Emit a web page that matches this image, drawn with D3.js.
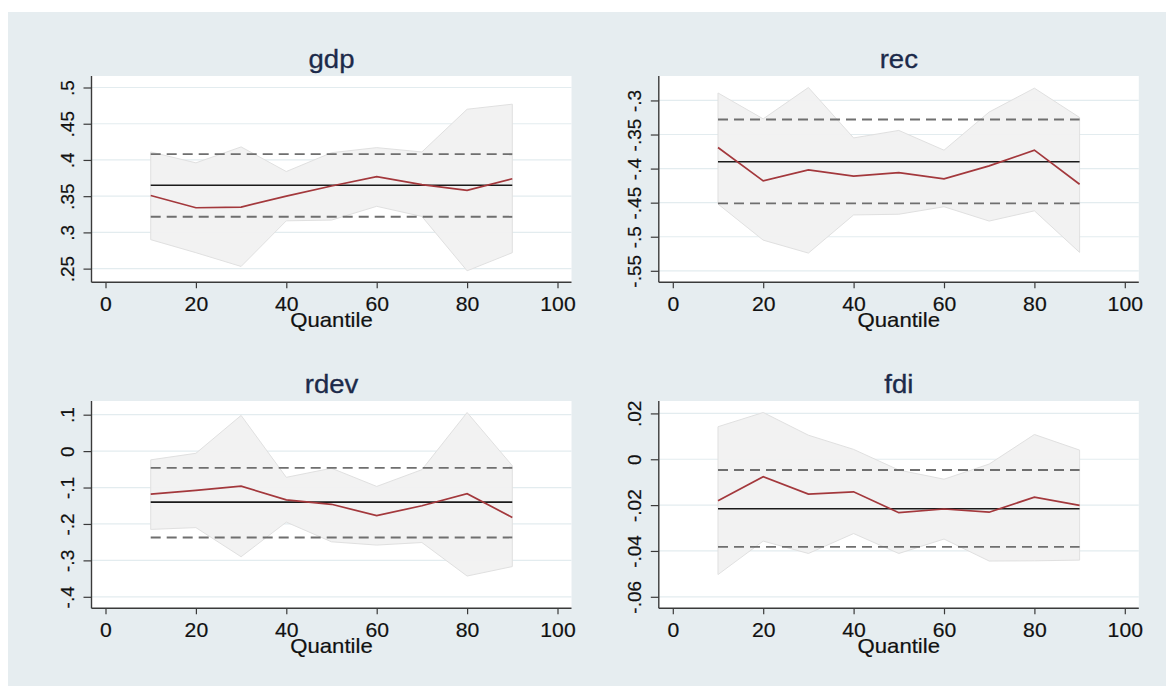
<!DOCTYPE html>
<html>
<head>
<meta charset="utf-8">
<script src="https://cdn.jsdelivr.net/npm/d3@7"></script>
<style>
  html, body { margin: 0; padding: 0; background: #ffffff; }
  svg { display: block; }
  text { font-family: "Liberation Sans", Arial, Helvetica, sans-serif; }
</style>
</head>
<body>
<div id="chart"></div>
<script>
// ---------------- data ----------------
const quantiles = [10, 20, 30, 40, 50, 60, 70, 80, 90];
const xTicks = [0, 20, 40, 60, 80, 100];
const xLabel = "Quantile";

// gdp
const gdpCoef  = [0.351, 0.334, 0.335, 0.350, 0.364, 0.377, 0.366, 0.358, 0.374];
const gdpUpper = [0.411, 0.396, 0.418, 0.384, 0.410, 0.417, 0.411, 0.470, 0.477];
const gdpLower = [0.290, 0.272, 0.253, 0.316, 0.317, 0.336, 0.322, 0.247, 0.272];
const gdpOls   = [0.365, 0.3215, 0.408];   // estimate, lower CI, upper CI
const gdpTicks = [0.25, 0.3, 0.35, 0.4, 0.45, 0.5];
const gdpTickLabels = [".25", ".3", ".35", ".4", ".45", ".5"];

// rec
const recCoef  = [-0.369, -0.418, -0.402, -0.411, -0.406, -0.415, -0.396, -0.373, -0.423];
const recUpper = [-0.289, -0.327, -0.281, -0.355, -0.344, -0.373, -0.317, -0.282, -0.325];
const recLower = [-0.452, -0.505, -0.524, -0.468, -0.467, -0.456, -0.477, -0.462, -0.523];
const recOls   = [-0.390, -0.451, -0.328];
const recTicks = [-0.55, -0.5, -0.45, -0.4, -0.35, -0.3];
const recTickLabels = ["-.55", "-.5", "-.45", "-.4", "-.35", "-.3"];

// rdev
const rdevCoef  = [-0.118, -0.108, -0.096, -0.134, -0.146, -0.177, -0.150, -0.117, -0.182];
const rdevUpper = [-0.024, -0.006, 0.098, -0.072, -0.047, -0.097, -0.051, 0.106, -0.040];
const rdevLower = [-0.215, -0.210, -0.290, -0.195, -0.249, -0.258, -0.251, -0.343, -0.317];
const rdevOls   = [-0.140, -0.237, -0.046];
const rdevTicks = [-0.4, -0.3, -0.2, -0.1, 0, 0.1];
const rdevTickLabels = ["-.4", "-.3", "-.2", "-.1", "0", ".1"];

// fdi
const fdiCoef  = [-0.0181, -0.0076, -0.0152, -0.0142, -0.0233, -0.0217, -0.0231, -0.0165, -0.0201];
const fdiUpper = [0.0142, 0.0204, 0.0105, 0.0043, -0.0047, -0.0087, -0.0021, 0.0108, 0.0040];
const fdiLower = [-0.0503, -0.0357, -0.0411, -0.0324, -0.0411, -0.0348, -0.0444, -0.0443, -0.0440];
const fdiOls   = [-0.0216, -0.0382, -0.0047];
const fdiTicks = [-0.06, -0.04, -0.02, 0, 0.02];
const fdiTickLabels = ["-.06", "-.04", "-.02", "0", ".02"];

// ---------------- layout ----------------
const W = 1166, H = 686;
const panels = [
  { title: "gdp",  coef: gdpCoef,  upper: gdpUpper,  lower: gdpLower,  ols: gdpOls,  ticks: gdpTicks,  labels: gdpTickLabels,  left: 91.5, top: 76,    w: 480, h: 206.3 },
  { title: "rec",  coef: recCoef,  upper: recUpper,  lower: recLower,  ols: recOls,  ticks: recTicks,  labels: recTickLabels,  left: 658.8, top: 76,   w: 480, h: 206.3 },
  { title: "rdev", coef: rdevCoef, upper: rdevUpper, lower: rdevLower, ols: rdevOls, ticks: rdevTicks, labels: rdevTickLabels, left: 91.5, top: 401,   w: 480, h: 207.3 },
  { title: "fdi",  coef: fdiCoef,  upper: fdiUpper,  lower: fdiLower,  ols: fdiOls,  ticks: fdiTicks,  labels: fdiTickLabels,  left: 658.8, top: 401,  w: 480, h: 207.3 }
];

const COL = {
  bg: "#e6edf0",
  plot: "#ffffff",
  grid: "#e3ecef",
  band: "#f1f1f1",
  bandEdge: "#e0e0e0",
  coef: "#a3383c",
  ols: "#1a1a1a",
  ci: "#6f6f6f",
  axis: "#3a3a3a",
  title: "#1c2a4a",
  text: "#111111"
};

const svg = d3.select("#chart").append("svg")
  .attr("width", W).attr("height", H)
  .attr("viewBox", `0 0 ${W} ${H}`);

svg.append("rect").attr("x", 0).attr("y", 0).attr("width", W).attr("height", H).attr("fill", "#ffffff");
svg.append("rect").attr("x", 8).attr("y", 12).attr("width", W - 8).attr("height", H - 12).attr("fill", COL.bg);

panels.forEach(p => {
  const g = svg.append("g").attr("transform", `translate(${p.left},${p.top})`);
  const padX = 14, padY = 11.5;

  const x = d3.scaleLinear().domain([0, 100]).range([padX, p.w - padX]);
  const ext = d3.extent([...p.ticks, ...p.upper, ...p.lower, ...p.coef]);
  const y = d3.scaleLinear().domain(ext).range([p.h - padY, padY]);

  // plot region
  g.append("rect").attr("width", p.w).attr("height", p.h).attr("fill", COL.plot);

  // gridlines
  g.append("g").selectAll("line").data(p.ticks).join("line")
    .attr("x1", 0).attr("x2", p.w)
    .attr("y1", d => y(d)).attr("y2", d => y(d))
    .attr("stroke", COL.grid).attr("stroke-width", 1.2);

  const rows = quantiles.map((q, i) => ({ q, c: p.coef[i], lo: p.lower[i], hi: p.upper[i] }));

  // confidence band
  const area = d3.area().x(d => x(d.q)).y0(d => y(d.lo)).y1(d => y(d.hi));
  g.append("path").datum(rows).attr("d", area)
    .attr("fill", COL.band).attr("fill-opacity", 0.95)
    .attr("stroke", COL.bandEdge).attr("stroke-width", 1);

  const qx = d3.extent(quantiles);
  // OLS CI dashed
  [p.ols[1], p.ols[2]].forEach(v => {
    g.append("line")
      .attr("x1", x(qx[0])).attr("x2", x(qx[1]))
      .attr("y1", y(v)).attr("y2", y(v))
      .attr("stroke", COL.ci).attr("stroke-width", 1.9)
      .attr("stroke-dasharray", "10,6");
  });
  // OLS estimate
  g.append("line")
    .attr("x1", x(qx[0])).attr("x2", x(qx[1]))
    .attr("y1", y(p.ols[0])).attr("y2", y(p.ols[0]))
    .attr("stroke", COL.ols).attr("stroke-width", 1.6);

  // quantile coefficient line
  const line = d3.line().x(d => x(d.q)).y(d => y(d.c));
  g.append("path").datum(rows).attr("d", line)
    .attr("fill", "none").attr("stroke", COL.coef).attr("stroke-width", 1.7);

  // y axis
  const yAxis = d3.axisLeft(y).tickValues(p.ticks)
    .tickFormat((d, i) => p.labels[i]).tickSize(8).tickSizeOuter(0);
  const ya = g.append("g").call(yAxis);
  ya.select(".domain").remove();
  ya.selectAll(".tick line").attr("stroke", COL.axis).attr("stroke-width", 1.2);
  ya.selectAll(".tick text")
    .attr("transform", "rotate(-90)")
    .attr("x", 0).attr("y", -17.5).attr("dy", 0)
    .attr("text-anchor", "middle")
    .attr("fill", COL.text)
    .attr("stroke", COL.text).attr("stroke-width", 0.2)
    .style("font-size", "19px");

  // x axis
  const xAxis = d3.axisBottom(x).tickValues(xTicks).tickSize(6).tickSizeOuter(0);
  const xa = g.append("g").attr("transform", `translate(0,${p.h})`).call(xAxis);
  xa.select(".domain").remove();
  xa.selectAll(".tick line").attr("stroke", COL.axis).attr("stroke-width", 1.2);
  xa.selectAll(".tick text")
    .attr("y", 28.5).attr("dy", 0)
    .attr("transform", "scale(1.06,1)")
    .attr("fill", COL.text)
    .attr("stroke", COL.text).attr("stroke-width", 0.2)
    .style("font-size", "20px");

  // axis lines spanning plot region
  g.append("line").attr("x1", 0).attr("x2", 0).attr("y1", 0).attr("y2", p.h)
    .attr("stroke", COL.axis).attr("stroke-width", 1.4);
  g.append("line").attr("x1", 0).attr("x2", p.w).attr("y1", p.h).attr("y2", p.h)
    .attr("stroke", COL.axis).attr("stroke-width", 1.4);

  // title
  g.append("g").attr("transform", `translate(${p.w / 2},-8)`)
    .append("text").attr("x", 0).attr("y", 0)
    .attr("transform", "scale(1.1,1)")
    .attr("text-anchor", "middle").attr("fill", COL.title)
    .attr("stroke", COL.title).attr("stroke-width", 0.3)
    .style("font-size", "25px").text(p.title);

  // x axis title
  g.append("g").attr("transform", `translate(${p.w / 2},${p.h + 44.5})`)
    .append("text").attr("x", 0).attr("y", 0)
    .attr("transform", "scale(1.08,1)")
    .attr("text-anchor", "middle").attr("fill", COL.text)
    .attr("stroke", COL.text).attr("stroke-width", 0.2)
    .style("font-size", "20.5px").text(xLabel);
});
</script>
</body>
</html>
